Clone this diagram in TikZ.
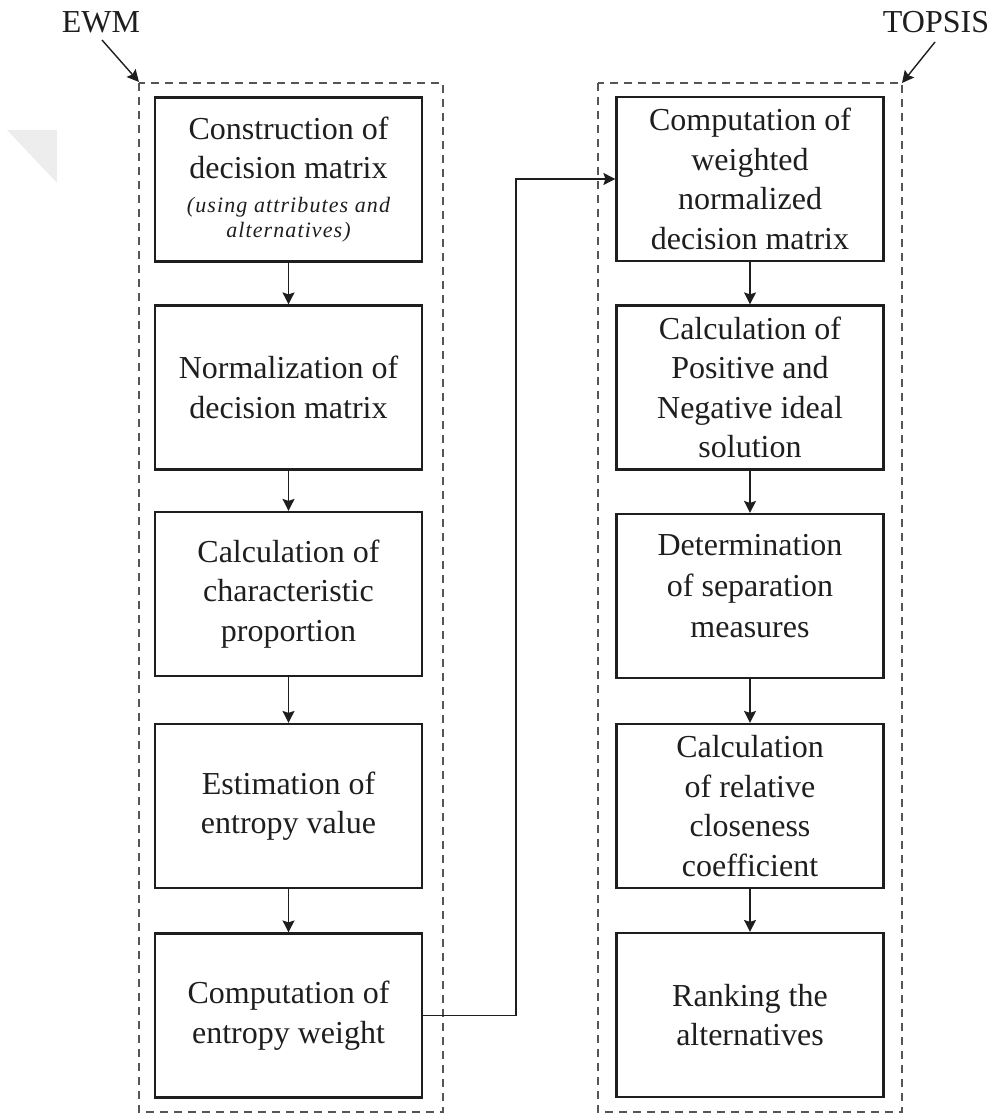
\documentclass[tikz,border=0pt]{standalone}
\usepackage{fontspec}
\setmainfont{Liberation Serif}
\newfontfamily\subfont[LetterSpace=5]{Liberation Serif}
\usetikzlibrary{arrows.meta}
\definecolor{ink}{HTML}{1E1E1E}
\definecolor{dashgray}{HTML}{555555}
\begin{document}
\begin{tikzpicture}[x=1pt,y=-1pt,
  stepbox/.style={draw=ink, line width=2.2pt, rectangle, minimum width=267pt, minimum height=164pt, inner sep=0pt, align=center, text=ink, font=\fontsize{32}{39.5}\selectfont},
  flow/.style={draw=ink, line width=1.4pt, -{Stealth[length=12pt,width=12pt,inset=2pt]}},
  group/.style={draw=dashgray, line width=1.6pt, dash pattern=on 8pt off 6pt},
  grouplabel/.style={text=ink, font=\fontsize{32}{38}\selectfont, inner sep=0pt}]
\path[use as bounding box] (0,0) rectangle (990,1115);
% faint watermark fragment
\fill[black!7] (7,130) -- (57,130) -- (57,183) -- cycle;
% group frames
\draw[group] (139,83) rectangle (443,1112);
\draw[group] (598,83) rectangle (902,1112);
\coordinate (ewmcorner) at (139,82);
\coordinate (topcorner) at (902,83);
% labels
\node[grouplabel] (ewm) at (101,22) {EWM};
\node[grouplabel] (topsis) at (936,22) {TOPSIS};
\draw[flow] (102,40) -- (ewmcorner);
\draw[flow] (935,42) -- (topcorner);
% left column
\node[stepbox] (l1) at (288.5,179.5) {Construction of\\decision matrix\\[-6pt]{\fontsize{22}{25}\subfont\itshape (using attributes and}\\[-14pt]{\fontsize{22}{25}\subfont\itshape alternatives)}};
\node[stepbox] (l2) at (288.5,387.5) {Normalization of\\decision matrix};
\node[stepbox] (l3) at (288.5,594) {Calculation of\\characteristic\\proportion};
\node[stepbox] (l4) at (288.5,806) {Estimation of\\entropy value};
\node[stepbox] (l5) at (288.5,1015.5) {Computation of\\entropy weight};
% right column
\node[stepbox] (r1) at (750,179) {Computation of\\weighted\\normalized\\decision matrix};
\node[stepbox] (r2) at (750,387.5) {Calculation of\\Positive and\\Negative ideal\\solution};
\node[stepbox] (r3) at (750,596) {};
\node[align=center, text=ink, font=\fontsize{32}{41}\selectfont] (r3t) at (750,586) {Determination\\of separation\\measures};
\node[stepbox] (r4) at (750,806) {Calculation\\of relative\\closeness\\coefficient};
\node[stepbox] (r5) at (750,1015) {Ranking the\\alternatives};
% connectors
\draw[flow] (l1) -- (l2);
\draw[flow] (l2) -- (l3);
\draw[flow] (l3) -- (l4);
\draw[flow] (l4) -- (l5);
\draw[flow] (r1) -- (r2);
\draw[flow] (r2) -- (r3);
\draw[flow] (r3) -- (r4);
\draw[flow] (r4) -- (r5);
\coordinate (turn) at (516,600);
\draw[flow] (l5.east) -- (l5.east -| turn) -- (turn |- r1.west) -- (r1.west);
\end{tikzpicture}
\end{document}
